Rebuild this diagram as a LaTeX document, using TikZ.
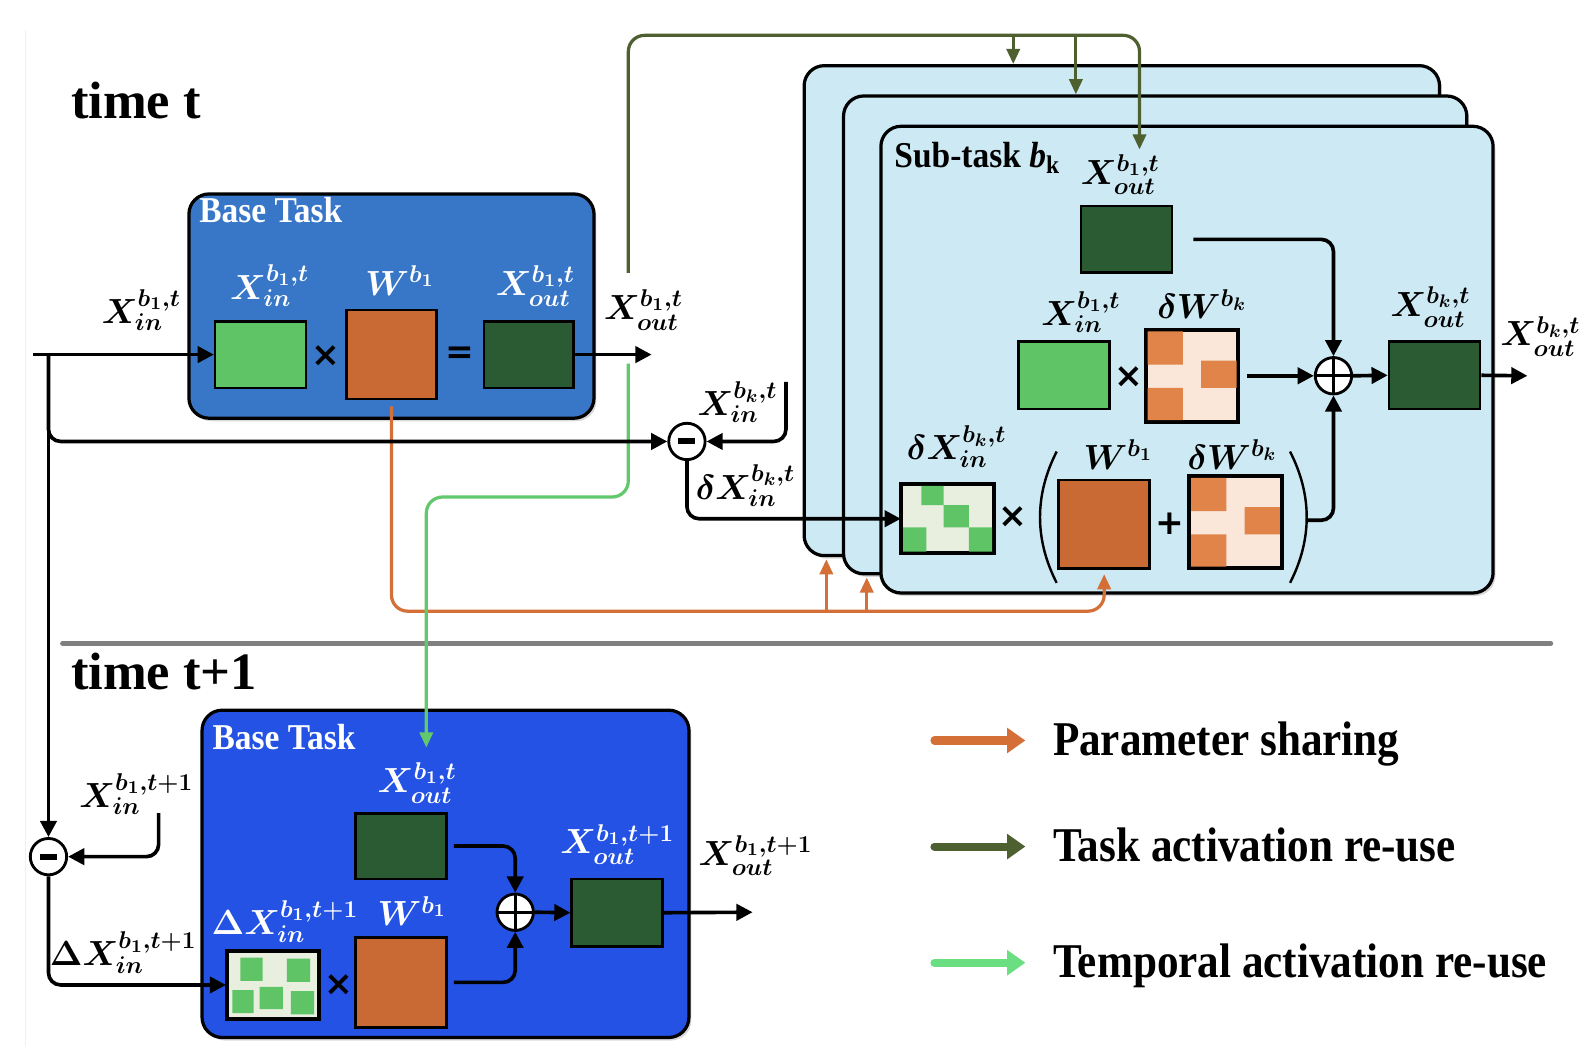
\documentclass[tikz,border=0pt]{standalone}
\usepackage[no-math]{fontspec}
\setmainfont{Liberation Serif}
\newfontfamily\symfont{DejaVu Sans}
\usetikzlibrary{arrows.meta,fit,calc,shadows}
\definecolor{topblue}{HTML}{3877C7}
\definecolor{botblue}{HTML}{2452E4}
\definecolor{subblue}{HTML}{CDE9F3}
\definecolor{lgreen}{HTML}{5EC466}
\definecolor{dgreen}{HTML}{2B5B33}
\definecolor{worange}{HTML}{C96A35}
\definecolor{sporange}{HTML}{E0844A}
\definecolor{spobg}{HTML}{FAE7DA}
\definecolor{spgbg}{HTML}{E8EFDF}
\definecolor{olivec}{HTML}{4E5F30}
\definecolor{orangec}{HTML}{D46F38}
\definecolor{tgreen}{HTML}{62C86C}
\definecolor{leggreen}{HTML}{6ADE80}
\definecolor{sepgray}{HTML}{7F7F7F}
\begin{document}
\begin{tikzpicture}[x=0.5pt,y=-0.5pt,
  tbox/.style={draw=black,line width=1.6pt,rounded corners=10pt,inner sep=0pt,fill=#1,
    drop shadow={shadow xshift=1.2pt,shadow yshift=-1.5pt,opacity=0.3}},
  mat/.style={draw=black,line width=1.3pt,inner sep=0pt,fill=#1},
  lab/.style={font=\fontsize{18}{22}\selectfont\boldmath,inner sep=0pt},
  wlab/.style={lab,text=white},
  ttl/.style={font=\fontsize{18}{20}\selectfont\bfseries,inner sep=0pt,anchor=base west},
  big/.style={font=\fontsize{26}{30}\selectfont\bfseries,inner sep=0pt,anchor=base west},
  op/.style={font=\fontsize{17}{20}\selectfont\symfont\bfseries,inner sep=0pt},
  circ/.style={circle,draw=black,line width=1.4pt,fill=white,minimum size=18pt,inner sep=0pt},
  arr/.style={draw=black,line width=1.8pt,rounded corners=6pt,-{Triangle[length=8pt,width=8pt]}},
  carr/.style={draw=#1,line width=1.6pt,rounded corners=8pt,-{Triangle[length=7.5pt,width=6.5pt]}},
  legarr/.style={draw=#1,line width=4pt,line cap=round,-{Triangle[length=9pt,width=12pt]}},
  legtxt/.style={font=\fontsize{24}{28}\selectfont\bfseries,inner sep=0pt,anchor=base west},
  spo/.style={fill=sporange},
  spg/.style={fill=lgreen}
]
\useasboundingbox (0,0) rectangle (1568,1037);
\draw[gray!12,line width=0.5pt] (25,30) -- (25,1035);

% separator
\coordinate (sepL) at (62,637);
\coordinate (sepR) at (1535,637);
\draw[sepgray,line width=2.5pt,line cap=round] (sepL) -- (sepR);

% titles
\node[big] (tt) at (70,117) {time t};
\node[big] (tt1) at (70,683) {time t+1};

% boxes
\node[tbox=topblue,fit={(187,192)(588,414)}] (base1) {};
\node[tbox=subblue,fit={(796,65)(1425,550)}] (stk1) {};
\node[tbox=subblue,fit={(835,95)(1452,568)}] (stk2) {};
\node[tbox=subblue,fit={(872,125)(1478,587)}] (stk3) {};
\node[tbox=botblue,fit={(200,703)(682,1027)}] (base2) {};

\node[ttl,text=white] (bt1) at (197,220) {\scalebox{0.92}[1]{Base Task}};
\node[ttl,text=white] (bt2) at (210,742) {\scalebox{0.92}[1]{Base Task}};
\node[ttl] (st) at (885,166) {\scalebox{0.92}[1]{Sub-task \textit{b}\textsubscript{k}}};

% matrices
\node[mat=lgreen,fit={(213,318)(303,384)}] (xin1) {};
\node[mat=worange,fit={(343,307)(432,395)}] (W1) {};
\node[mat=dgreen,fit={(479,318)(568,384)}] (xout1) {};
\node[mat=dgreen,fit={(1070,204)(1160,270)}] (xoutS) {};
\node[mat=lgreen,fit={(1008,338)(1098,405)}] (xinS) {};
\node[mat=spobg,fit={(1135,327)(1225,417)}] (dWu) {};
\node[mat=dgreen,fit={(1375,338)(1465,405)}] (xoutK) {};
\node[mat=spgbg,fit={(893,480)(983,547)}] (dxk) {};
\node[mat=worange,fit={(1048,475)(1138,563)}] (Ws) {};
\node[mat=spobg,fit={(1178,472)(1268,562)}] (dWl) {};
\node[mat=dgreen,fit={(352,805)(442,870)}] (xoutB) {};
\node[mat=spgbg,fit={(225,942)(315,1008)}] (dxB) {};
\node[mat=worange,fit={(352,928)(442,1017)}] (WB) {};
\node[mat=dgreen,fit={(566,870)(656,937)}] (xoutB2) {};

% sparse patterns
\begin{scope}[shift={(1135,327)}]
  \fill[spo] (1,1) rectangle (36,34) (54,30) rectangle (89,57) (1,57) rectangle (36,89);
\end{scope}
\begin{scope}[shift={(1178,472)}]
  \fill[spo] (1,1) rectangle (36,34) (54,30) rectangle (89,57) (1,57) rectangle (36,89);
\end{scope}
\begin{scope}[shift={(893,480)}]
  \fill[spg] (19,1) rectangle (41,20) (41,20) rectangle (66,42) (1,42) rectangle (24,66) (66,42) rectangle (89,66);
\end{scope}
\begin{scope}[shift={(225,942)}]
  \fill[spg] (13,6) rectangle (35,29) (59,7) rectangle (82,30) (5,38) rectangle (26,61) (32,35) rectangle (55,57) (63,39) rectangle (86,62);
\end{scope}
\foreach \n in {dWu,dWl,dxk,dxB}{
  \draw[line width=1.3pt] (\n.north west) rectangle (\n.south east);
}

% operators
\node[op] (m1) at (323,352) {×};
\node[op] (eq1) at (455,352) {=};
\node[op] (m2) at (1117,373) {×};
\node[op] (m3) at (1003,512) {×};
\node[op] (p3) at (1158,518) {+};
\node[op] (m4) at (335,975) {×};
\draw[line width=1.2pt] (1046,447) .. controls (1024,490) and (1024,534) .. (1046,577);
\draw[line width=1.2pt] (1277,447) .. controls (1299,490) and (1299,534) .. (1277,577);

% circles
\node[circ] (minus1) at (680,437) {};
\node[circ] (plusS) at (1320,372) {};
\node[circ] (minusL) at (48,848) {};
\node[circ] (plusB) at (510,903) {};
\foreach \c in {minus1,minusL}{
  \draw[line width=3pt] ([xshift=-4.2pt]\c.center) -- ([xshift=4.2pt]\c.center);
}
\foreach \c in {plusS,plusB}{
  \draw[line width=1.4pt] (\c.north) -- (\c.south) (\c.west) -- (\c.east);
}

% coordinates
\coordinate (in1) at (33,351);
\coordinate (br1) at (48,351);
\coordinate (out1) at (645,351);
\coordinate (xink) at (778,378);
\coordinate (outK) at (1512,372);
\coordinate (rp) at (1295,515);
\coordinate (xinL) at (157,805);
\coordinate (outB) at (745,903);
\coordinate (olS) at (622,270);
\coordinate (olTR) at (1128,35);
\coordinate (olEnd) at (1128,148);
\coordinate (olB1) at (1003,35);
\coordinate (olB2) at (1065,35);
\coordinate (orBR) at (1093,605);
\coordinate (orB1) at (818,605);
\coordinate (orB2) at (858,605);
\coordinate (gS) at (622,360);
\coordinate (gM) at (422,492);
\coordinate (gEnd) at (422,740);

% coloured connectors
\draw[carr=orangec] ([yshift=-3pt]W1.south) |- (orBR) -- ([yshift=-2pt]Ws.south);
\draw[carr=orangec] (orB1) -- ([yshift=-1pt]orB1 |- stk1.south);
\draw[carr=orangec] (orB2) -- ([yshift=-1pt]orB2 |- stk2.south);
\draw[carr=olivec] (olS) |- (olTR) -- (olEnd);
\draw[carr=olivec] (olB1) -- (olB1 |- stk1.north);
\draw[carr=olivec] (olB2) -- (olB2 |- stk2.north);
\draw[carr=tgreen] (gS) -- (gS |- gM) -| (gEnd);

% black connectors
\draw[arr] (in1) -- (xin1.west);
\draw[arr] (xout1.east) -- (out1);
\draw[arr] (br1) |- (minus1.west);
\draw[arr] (br1) -- (minusL.north);
\draw[arr] (xink) |- (minus1.east);
\draw[arr] (minus1.south) |- (dxk.west);
\draw[arr] ([xshift=10pt]xoutS.east) -| (plusS.north);
\draw[arr] ([xshift=4pt]dWu.east) -- (plusS.west);
\draw[arr] (plusS.east) -- (xoutK.west);
\draw[arr] (xoutK.east) -- (outK);
\draw[arr] (rp) -| (plusS.south);
\draw[arr] (xinL) |- (minusL.east);
\draw[arr] (minusL.south) |- (dxB.west);
\draw[arr] ([xshift=3pt]xoutB.east) -| (plusB.north);
\draw[arr] ([xshift=3pt]WB.east) -| (plusB.south);
\draw[arr] (plusB.east) -- (xoutB2.west);
\draw[arr] (xoutB2.east) -- (outB);

% labels
\node[lab] (l1) at (140,307) {$X^{b_1,t}_{in}$};
\node[wlab] (l2) at (267,283) {$X^{b_1,t}_{in}$};
\node[wlab] (l3) at (396,278) {$W^{b_1}$};
\node[wlab] (l4) at (530,283) {$X^{b_1,t}_{out}$};
\node[lab] (l5) at (637,307) {$X^{b_1,t}_{out}$};
\node[lab] (l6) at (730,398) {$X^{b_k,t}_{in}$};
\node[lab] (l7) at (738,481) {$\delta X^{b_k,t}_{in}$};
\node[lab] (l8) at (1109,173) {$X^{b_1,t}_{out}$};
\node[lab] (l9) at (1070,309) {$X^{b_1,t}_{in}$};
\node[lab] (l10) at (1190,301) {$\delta W^{b_k}$};
\node[lab] (l11) at (1416,304) {$X^{b_k,t}_{out}$};
\node[lab] (l12) at (1525,333) {$X^{b_k,t}_{out}$};
\node[lab] (l13) at (947,442) {$\delta X^{b_k,t}_{in}$};
\node[lab] (l14) at (1107,450) {$W^{b_1}$};
\node[lab] (l15) at (1220,450) {$\delta W^{b_k}$};
\node[lab] (l16) at (135,786) {$X^{b_1,t+1}_{in}$};
\node[lab] (l17) at (122,943) {$\Delta X^{b_1,t+1}_{in}$};
\node[wlab] (l18) at (413,775) {$X^{b_1,t}_{out}$};
\node[wlab] (l19) at (282,912) {$\Delta X^{b_1,t+1}_{in}$};
\node[wlab] (l20) at (408,902) {$W^{b_1}$};
\node[wlab] (l21) at (611,836) {$X^{b_1,t+1}_{out}$};
\node[lab] (l22) at (748,847) {$X^{b_1,t+1}_{out}$};

% legend
\coordinate (la1) at (925,733); \coordinate (la2) at (1015,733);
\coordinate (lb1) at (925,838); \coordinate (lb2) at (1015,838);
\coordinate (lc1) at (925,953); \coordinate (lc2) at (1015,953);
\draw[legarr=orangec] (la1) -- (la2);
\draw[legarr=olivec] (lb1) -- (lb2);
\draw[legarr=leggreen] (lc1) -- (lc2);
\node[legtxt] (lt1) at (1042,748) {\scalebox{0.89}[1]{Parameter sharing}};
\node[legtxt] (lt2) at (1042,853) {\scalebox{0.89}[1]{Task activation re-use}};
\node[legtxt] (lt3) at (1042,968) {\scalebox{0.89}[1]{Temporal activation re-use}};
\end{tikzpicture}
\end{document}
